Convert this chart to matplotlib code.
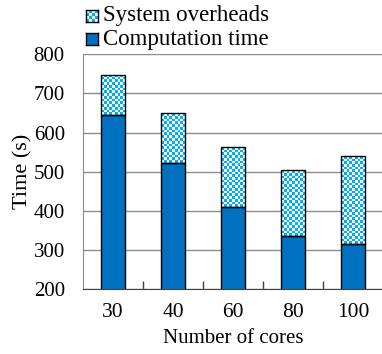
import numpy as np
import matplotlib
matplotlib.use("Agg")
import matplotlib.pyplot as plt
from matplotlib.colors import ListedColormap

plt.rcParams['font.family'] = ['Liberation Serif', 'DejaVu Serif']

cores = ["30", "40", "60", "80", "100"]
computation = [645, 523, 409, 336, 315]
overheads = [103, 127, 153, 168, 224]

comp_color = "#0070c0"
check_color = "#00b0f0"
checker_cmap = ListedColormap(["white", check_color])


def checker(nx, ny):
    return (np.add.outer(np.arange(ny), np.arange(nx)) % 2).astype(float)


fig = plt.figure(figsize=(3.82, 3.54), dpi=100)
ax = fig.add_axes([0.217, 0.183, 0.786, 0.664])

x = np.arange(len(cores))
ax.set_xlim(-0.5, len(cores) - 0.5)
ax.set_ylim(200, 800)

ax.bar(x, computation, width=0.4, color=comp_color, edgecolor="black",
       linewidth=1, zorder=3)
tops = ax.bar(x, overheads, bottom=computation, width=0.4, color="white",
              edgecolor="none", zorder=2)

# fill each overhead segment with a checkerboard clipped to the bar
square_px = 2.7
for patch in tops:
    bb = patch.get_bbox()
    (px0, py0), (px1, py1) = ax.transData.transform([[bb.x0, bb.y0], [bb.x1, bb.y1]])
    nx = max(1, int(round((px1 - px0) / square_px)))
    ny = max(1, int(round((py1 - py0) / square_px)))
    im = ax.imshow(checker(nx, ny), cmap=checker_cmap, vmin=0, vmax=1,
                   extent=(bb.x0, bb.x1, bb.y0, bb.y1), origin="lower",
                   interpolation="nearest", aspect="auto", zorder=2.5)
    im.set_clip_path(patch)
ax.bar(x, overheads, bottom=computation, width=0.4, fill=False,
       edgecolor="black", linewidth=1, zorder=3)

ax.set_xlim(-0.5, len(cores) - 0.5)
ax.set_ylim(200, 800)
ax.set_aspect("auto")

ax.set_yticks(range(200, 801, 100))
ax.yaxis.grid(True, color="#8c8c8c", linewidth=1)
ax.set_axisbelow(True)
ax.set_xticks(x)
ax.set_xticklabels(cores)
ax.set_xticks(np.arange(0.5, len(cores) - 0.5, 1), minor=True)
ax.tick_params(axis="x", which="major", length=0, labelsize=15.5, pad=10)
ax.tick_params(axis="x", which="minor", direction="in", length=6,
               color="#404040", width=1)
ax.tick_params(axis="y", length=0, labelsize=15, pad=13)

for side in ("top", "right"):
    ax.spines[side].set_visible(False)
ax.spines["left"].set_color("#8c8c8c")
ax.spines["bottom"].set_color("#404040")

ax.set_xlabel("Number of cores", fontsize=15, labelpad=5)
ax.set_ylabel("Time (s)", fontsize=16, labelpad=1)

# legend drawn above the plot area
w, h = 382, 354
entries = [("System overheads", True, 10), ("Computation time", False, 33)]
for label, checked, top in entries:
    box = fig.add_axes([86 / w, 1 - (top + 12) / h, 12 / w, 12 / h])
    if checked:
        box.imshow(checker(4, 4), cmap=checker_cmap, vmin=0, vmax=1,
                   interpolation="nearest", aspect="auto")
    else:
        box.set_facecolor(comp_color)
    box.set_xticks([])
    box.set_yticks([])
    for sp in box.spines.values():
        sp.set_color("black")
        sp.set_linewidth(1)
    fig.text(103 / w, 1 - (top + 6) / h, label, fontsize=16.5, va="center",
             ha="left")

fig.savefig("out.png", dpi=100)
